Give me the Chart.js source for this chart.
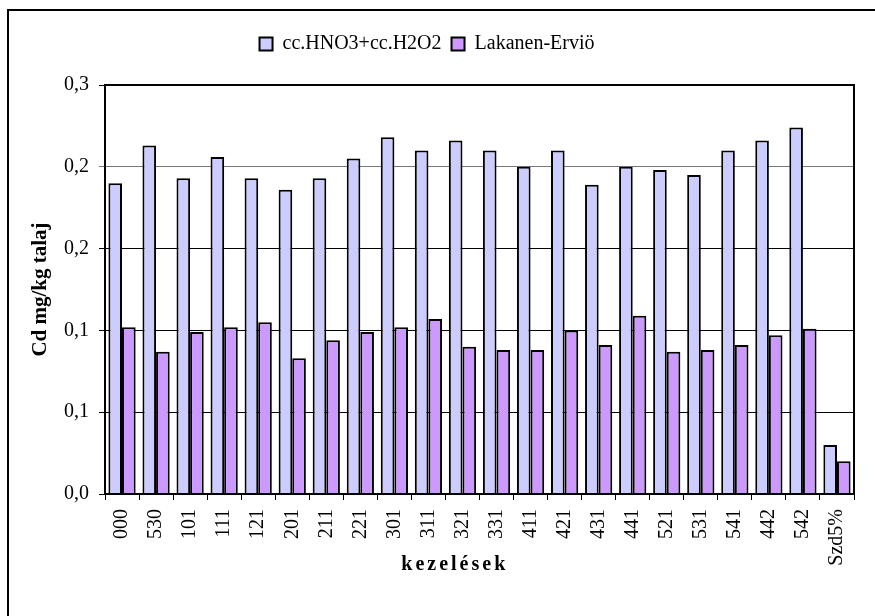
<!DOCTYPE html>
<html>
<head>
<meta charset="utf-8">
<script src="https://cdn.jsdelivr.net/npm/chart.js@4"></script>
<style>
  html, body { margin: 0; padding: 0; background: #fff; overflow: hidden; }
  #wrap { width: 875px; height: 616px; position: relative; }
</style>
</head>
<body>
<div id="wrap"><canvas id="cdChart"></canvas></div>
<script>
// kezelések (x categories)
const kezelesek = ['000', '530', '101', '111', '121', '201', '211', '221', '301', '311', '321',
                   '331', '411', '421', '431', '441', '521', '531', '541', '442', '542', 'Szd5%'];

// Cd mg/kg talaj
const hno3_h2o2 = [0.190, 0.213, 0.193, 0.206, 0.193, 0.186, 0.193, 0.205, 0.218, 0.210, 0.216,
                   0.210, 0.200, 0.210, 0.189, 0.200, 0.198, 0.195, 0.210, 0.216, 0.224, 0.030];
const lakanen = [0.102, 0.087, 0.099, 0.102, 0.105, 0.083, 0.094, 0.099, 0.102, 0.107, 0.090,
                 0.088, 0.088, 0.100, 0.091, 0.109, 0.087, 0.088, 0.091, 0.097, 0.101, 0.020];

// y tick labels as printed (one decimal, Hungarian comma)
const yTickLabels = ['0,0', '0,1', '0,1', '0,2', '0,2', '0,3'];

const serif = "'Liberation Serif', 'Times New Roman', serif";

// outer frame + plot box + x axis title
const frame_plugin = {
  id: 'frame',
  beforeInit(chart) {
    const fit = chart.legend.fit;
    chart.legend.fit = function() {
      fit.bind(chart.legend)();
      this.height = 61;
    };
  },
  beforeDraw(chart) {
    const ctx = chart.ctx;
    ctx.save();
    ctx.fillStyle = '#fff';
    ctx.fillRect(0, 0, chart.width, chart.height);
    ctx.strokeStyle = '#000';
    ctx.lineWidth = 2;
    ctx.strokeRect(8, 10, 1000, 1000);
    ctx.restore();
  },
  afterDraw(chart) {
    const ctx = chart.ctx;
    const a = chart.chartArea;
    ctx.save();
    ctx.strokeStyle = '#000';
    ctx.lineWidth = 2;
    ctx.strokeRect(a.left, a.top, a.right - a.left, a.bottom - a.top);
    ctx.font = 'bold 20px ' + serif;
    ctx.letterSpacing = '3px';
    ctx.fillStyle = '#000';
    ctx.textAlign = 'center';
    ctx.textBaseline = 'middle';
    ctx.fillText('kezelések', a.left + (a.right - a.left) * 0.467, 565);
    ctx.restore();
  }
};

const cd_chart = new Chart(document.getElementById('cdChart'), {
  type: 'bar',
  data: {
    labels: kezelesek,
    datasets: [{
      label: 'cc.HNO3+cc.H2O2',
      data: hno3_h2o2,
      backgroundColor: '#CCCCFF',
      borderColor: '#000',
      borderWidth: 2
    }, {
      label: 'Lakanen-Erviö',
      data: lakanen,
      backgroundColor: '#CC99FF',
      borderColor: '#000',
      borderWidth: 2
    }]
  },
  options: {
    responsive: true,
    maintainAspectRatio: false,
    animation: false,
    layout: { padding: { left: 0, top: 24, right: 21, bottom: 0 } },
    datasets: { bar: { categoryPercentage: 0.8, barPercentage: 1.0 } },
    plugins: {
      legend: {
        labels: {
          font: { family: serif, size: 20 },
          color: '#000',
          boxWidth: 13,
          boxHeight: 13,
          padding: 10
        }
      },
      tooltip: { enabled: false }
    },
    scales: {
      x: {
        afterFit: s => { s.height = 122; },
        grid: {
          offset: true,
          drawOnChartArea: false,
          color: '#000',
          tickLength: 6
        },
        border: { color: '#000', width: 2 },
        ticks: {
          font: { family: serif, size: 20 },
          color: '#000',
          minRotation: 90,
          maxRotation: 90,
          padding: 9,
          autoSkip: false
        }
      },
      y: {
        min: 0,
        max: 0.25,
        afterFit: s => { s.width = 105; },
        grid: {
          color: c => (c.tick && Math.abs(c.tick.value - 0.2) < 1e-9) ? '#777' : '#000',
          tickLength: 6
        },
        border: { color: '#000', width: 2 },
        ticks: {
          stepSize: 0.05,
          font: { family: serif, size: 20 },
          color: '#000',
          padding: 10,
          callback: v => yTickLabels[Math.round(v / 0.05)]
        },
        title: {
          display: true,
          text: 'Cd mg/kg talaj',
          font: { family: serif, size: 21, weight: 'bold' },
          color: '#000',
          padding: { top: 28, bottom: 0 }
        }
      }
    }
  },
  plugins: [frame_plugin]
});
</script>
</body>
</html>
